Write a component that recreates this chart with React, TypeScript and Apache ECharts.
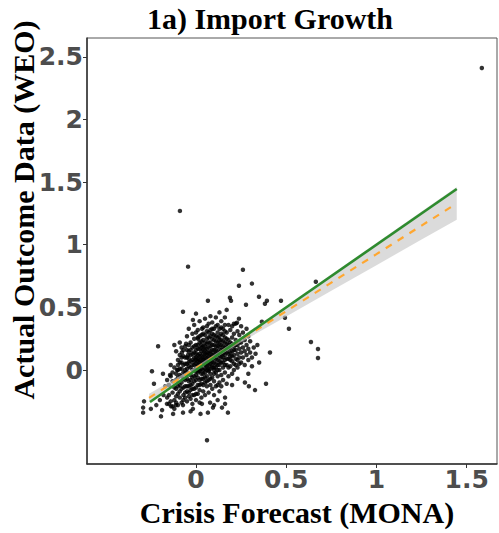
import React, { useEffect, useRef } from "react";
import * as echarts from "echarts";

const chartTitle = "1a) Import Growth";
const xTitle = "Crisis Forecast (MONA)";
const yTitle = "Actual Outcome Data (WEO)";
const xTicks = [0, 0.5, 1, 1.5];
const yTicks = [0, 0.5, 1, 1.5, 2, 2.5];

// sparse points around the cluster
const outerPoints: number[][] = [
  [1.584, 2.41], [-0.089, 1.27], [-0.044, 0.825], [0.26, 0.8], [0.238, 0.673], [0.31, 0.69],
  [0.349, 0.585], [0.393, 0.553], [0.382, 0.529], [0.471, 0.553], [0.493, 0.417], [0.515, 0.329],
  [0.637, 0.224], [0.676, 0.168], [0.676, 0.096], [0.664, 0.705], [0.188, 0.577], [0.194, 0.553],
  [0.277, 0.521], [0.066, 0.553], [-0.072, 0.465], [-0.017, 0.4], [-0.21, 0.19], [-0.244, -0.01],
  [-0.233, -0.11], [-0.288, -0.25], [-0.293, -0.3], [-0.293, -0.34], [-0.188, -0.32], [-0.194, -0.37],
  [-0.127, -0.35], [-0.072, -0.34], [-0.017, -0.31], [0.066, -0.34], [0.177, -0.34], [0.161, -0.27],
  [0.161, -0.22], [0.061, -0.56], [0.271, -0.1], [0.293, -0.13], [0.327, -0.16], [0.388, -0.11],
  [0.41, 0.14], [-0.183, -0.03], [-0.161, -0.27], [-0.138, -0.29], [-0.111, -0.28], [-0.072, -0.28],
  [0.033, -0.27], [0.078, -0.26], [0.094, -0.3], [0.238, 0.41], [0.227, 0.377], [0.21, 0.369],
  [0.365, 0.385], [0.25, 0.35], [0.28, 0.33], [0.144, -0.3], [0.12, -0.24], [-0.144, -0.04],
  [-0.078, 0.14], [-0.055, 0.21], [-0.044, 0.12], [0.011, 0.25], [0.033, 0.33], [-0.089, 0.06],
  [-0.105, 0.0], [-0.22, -0.28], [-0.2, -0.24], [-0.25, -0.31], [-0.18, -0.2], [-0.17, -0.13],
  [0.29, -0.03], [0.31, 0.03], [0.35, 0.06], [0.2, -0.12], [0.23, -0.07], [-0.12, 0.2],
  [0.0, 0.45], [0.13, 0.46], [0.17, 0.48], [-0.03, -0.33], [0.1, -0.28], [0.025, -0.35],
];

// dense central cluster
const corePoints: number[][] = [
  [-0.16, -0.22], [-0.15, -0.12], [-0.14, -0.05], [-0.13, -0.18], [-0.12, 0.02], [-0.15, -0.27],
  [-0.13, -0.09], [-0.12, -0.24], [-0.14, 0.04], [-0.11, -0.15], [-0.12, -0.31], [-0.16, -0.08],
  [-0.11, -0.03], [-0.1, 0.08], [-0.1, -0.19], [-0.09, -0.12], [-0.09, 0.12], [-0.08, -0.26],
  [-0.08, 0.01], [-0.08, 0.18], [-0.07, -0.07], [-0.07, -0.2], [-0.11, 0.15], [-0.1, -0.28],
  [-0.09, -0.04], [-0.08, 0.06], [-0.07, 0.11], [-0.07, -0.14], [-0.09, 0.22], [-0.1, 0.0],
  [-0.11, -0.21], [-0.08, -0.1],
  [-0.06, -0.18], [-0.06, 0.05], [-0.06, 0.19], [-0.06, -0.08], [-0.05, -0.25], [-0.05, 0.1],
  [-0.05, 0.27], [-0.05, -0.02], [-0.05, -0.13], [-0.04, 0.03], [-0.04, -0.21], [-0.04, 0.15],
  [-0.04, 0.33], [-0.04, -0.09], [-0.03, 0.07], [-0.03, -0.16], [-0.03, 0.22], [-0.03, -0.04],
  [-0.03, 0.12], [-0.02, -0.27], [-0.02, 0.0], [-0.02, 0.18], [-0.02, -0.11], [-0.02, 0.29],
  [-0.06, 0.0], [-0.05, 0.05], [-0.04, -0.03], [-0.03, -0.23], [-0.02, 0.08], [-0.06, -0.13],
  [-0.05, 0.16], [-0.04, 0.09], [-0.03, 0.02], [-0.02, -0.06], [-0.02, 0.13],
  [-0.01, -0.2], [-0.01, 0.04], [-0.01, 0.14], [-0.01, -0.09], [-0.01, 0.25], [-0.01, 0.36],
  [0.0, -0.14], [0.0, 0.01], [0.0, 0.1], [0.0, 0.2], [0.0, -0.04], [0.0, 0.3], [0.0, -0.24],
  [0.01, 0.07], [0.01, -0.12], [0.01, 0.17], [0.01, -0.02], [0.01, 0.26], [0.01, 0.12],
  [0.01, -0.19], [0.02, 0.03], [0.02, 0.22], [0.02, -0.08], [0.02, 0.13], [0.02, 0.39],
  [0.02, -0.16], [0.02, 0.08], [0.03, -0.03], [0.03, 0.18], [0.03, 0.05], [0.03, 0.28],
  [0.03, -0.11], [0.03, 0.11], [0.03, -0.22], [-0.01, 0.07], [0.0, 0.05], [0.01, 0.0],
  [0.02, -0.01], [0.03, 0.15], [0.0, 0.16], [0.01, 0.32], [0.02, 0.27], [-0.01, -0.05],
  [0.03, 0.23], [0.0, -0.08], [0.01, 0.2], [0.02, 0.17], [0.03, 0.01], [-0.01, 0.19], [0.02, -0.26],
  [0.04, 0.0], [0.04, 0.13], [0.04, -0.07], [0.04, 0.24], [0.04, 0.08], [0.04, -0.17],
  [0.04, 0.34], [0.04, 0.19], [0.05, 0.04], [0.05, -0.1], [0.05, 0.16], [0.05, 0.28],
  [0.05, -0.02], [0.05, 0.1], [0.05, 0.41], [0.05, -0.2], [0.06, 0.06], [0.06, 0.21],
  [0.06, -0.05], [0.06, 0.14], [0.06, 0.31], [0.06, -0.13], [0.06, 0.0], [0.06, 0.25],
  [0.07, 0.11], [0.07, -0.08], [0.07, 0.18], [0.07, 0.03], [0.07, 0.37], [0.07, -0.18],
  [0.07, 0.26], [0.07, 0.08], [0.08, 0.15], [0.08, -0.03], [0.08, 0.22], [0.08, 0.05],
  [0.08, 0.32], [0.08, -0.12], [0.08, 0.1], [0.08, 0.43], [0.04, 0.05], [0.05, 0.22],
  [0.06, 0.09], [0.07, 0.14], [0.08, 0.19], [0.04, 0.29], [0.05, 0.07], [0.06, 0.17],
  [0.07, -0.01], [0.08, 0.01], [0.05, 0.13], [0.06, 0.35], [0.07, 0.22], [0.08, 0.27], [0.04, -0.12],
  [0.09, 0.07], [0.09, 0.2], [0.09, -0.06], [0.09, 0.29], [0.09, 0.12], [0.09, -0.15],
  [0.09, 0.38], [0.1, 0.02], [0.1, 0.16], [0.1, 0.24], [0.1, -0.09], [0.1, 0.1], [0.1, 0.33],
  [0.1, -0.2], [0.11, 0.05], [0.11, 0.19], [0.11, 0.27], [0.11, -0.02], [0.11, 0.13],
  [0.11, 0.42], [0.11, -0.13], [0.12, 0.08], [0.12, 0.22], [0.12, -0.05], [0.12, 0.15],
  [0.12, 0.3], [0.12, 0.0], [0.12, 0.36], [0.13, 0.11], [0.13, -0.1], [0.13, 0.24],
  [0.13, 0.04], [0.13, 0.18], [0.13, 0.33], [0.13, -0.17], [0.09, 0.16], [0.1, 0.06],
  [0.11, 0.09], [0.12, 0.12], [0.13, 0.07], [0.09, 0.02], [0.1, 0.28], [0.11, 0.23],
  [0.12, 0.19], [0.13, 0.27], [0.09, 0.25], [0.1, -0.03], [0.11, 0.35], [0.12, -0.12], [0.13, 0.14],
  [0.14, 0.06], [0.14, 0.2], [0.14, -0.04], [0.14, 0.29], [0.14, 0.13], [0.14, 0.39],
  [0.15, 0.1], [0.15, 0.23], [0.15, -0.08], [0.15, 0.16], [0.15, 0.02], [0.15, 0.33],
  [0.16, 0.08], [0.16, 0.26], [0.16, -0.02], [0.16, 0.18], [0.16, 0.12], [0.16, 0.42],
  [0.17, 0.04], [0.17, 0.21], [0.17, 0.14], [0.17, -0.11], [0.17, 0.3], [0.18, 0.09],
  [0.18, 0.24], [0.18, 0.17], [0.18, -0.05], [0.18, 0.36], [0.14, 0.24], [0.15, 0.19],
  [0.16, 0.04], [0.17, 0.09], [0.18, 0.13], [0.14, -0.13], [0.15, 0.28], [0.16, 0.22],
  [0.17, 0.25], [0.18, 0.02], [0.14, 0.1], [0.16, 0.31],
  [0.19, 0.11], [0.19, 0.22], [0.19, 0.03], [0.19, 0.32], [0.2, 0.15], [0.2, 0.07],
  [0.2, 0.26], [0.2, -0.03], [0.21, 0.12], [0.21, 0.19], [0.21, 0.29], [0.21, 0.05],
  [0.22, 0.16], [0.22, 0.09], [0.22, 0.24], [0.22, 0.37], [0.23, 0.13], [0.23, 0.2],
  [0.23, 0.02], [0.24, 0.17], [0.24, 0.1], [0.24, 0.28], [0.19, 0.18], [0.2, 0.35],
  [0.21, 0.0], [0.22, 0.04], [0.23, 0.31], [0.24, 0.05], [0.19, 0.08], [0.2, 0.21],
  [0.25, 0.14], [0.25, 0.22], [0.25, 0.06], [0.26, 0.18], [0.26, 0.3], [0.26, 0.1],
  [0.27, 0.15], [0.27, 0.24], [0.28, 0.12], [0.28, 0.2], [0.29, 0.08], [0.29, 0.17],
  [0.3, 0.14], [0.3, 0.23], [0.31, 0.1], [0.32, 0.18], [0.33, 0.13], [0.27, 0.04],
  [0.29, 0.27], [0.34, 0.2],
];

// further points filling the darkest part of the cluster
const densePoints: number[][] = [
  [-0.15, -0.2], [-0.14, -0.25], [-0.13, -0.29], [-0.13, -0.02], [-0.12, -0.14], [-0.11, -0.08],
  [-0.11, -0.26], [-0.1, -0.13], [-0.1, -0.06], [-0.1, 0.04], [-0.09, -0.22], [-0.09, -0.17],
  [-0.09, 0.01], [-0.08, -0.15], [-0.08, -0.05], [-0.08, 0.1], [-0.07, -0.24], [-0.07, -0.02],
  [-0.07, 0.04], [-0.07, 0.16], [-0.06, -0.22], [-0.06, -0.03], [-0.06, 0.1], [-0.05, -0.17],
  [-0.05, -0.07], [-0.05, 0.01], [-0.04, -0.13], [-0.04, -0.18], [-0.04, 0.06], [-0.04, 0.2],
  [-0.03, -0.08], [-0.03, -0.12], [-0.03, 0.16], [-0.02, -0.2], [-0.02, -0.15], [-0.02, 0.04],
  [-0.01, -0.15], [-0.01, 0.0], [-0.01, 0.1], [0.0, -0.19], [0.0, -0.01], [0.0, 0.08],
  [0.0, 0.13], [0.01, -0.06], [0.01, 0.04], [0.01, 0.09], [0.02, -0.12], [0.02, 0.0],
  [0.02, 0.06], [0.02, 0.11], [0.03, -0.07], [0.03, 0.08], [0.03, 0.2], [0.04, -0.03],
  [0.04, 0.1], [0.04, 0.16], [0.05, -0.06], [0.05, 0.01], [0.05, 0.19], [0.06, -0.09],
  [0.06, 0.03], [0.06, 0.12], [0.07, 0.0], [0.07, 0.06], [0.07, 0.3], [0.08, -0.07],
  [0.08, 0.08], [0.08, 0.13], [0.09, 0.04], [0.09, 0.1], [0.09, 0.33], [0.1, 0.13],
  [0.1, 0.2], [0.1, 0.0], [0.11, 0.16], [0.11, 0.02], [0.12, 0.04], [0.12, 0.26],
  [0.13, 0.21], [0.13, 0.0], [0.14, 0.16], [0.14, 0.34], [0.15, 0.06], [0.15, 0.13],
  [0.16, 0.15], [0.16, 0.36], [0.17, 0.18], [0.18, 0.2], [0.19, 0.14], [0.2, 0.11],
  [0.21, 0.16], [0.22, 0.2], [0.23, 0.08], [0.24, 0.22],
];

// fitted lines
const fitX = [-0.26, 0, 0.25, 0.5, 0.75, 1.0, 1.25, 1.445];
const fitY = [-0.222, 0.015, 0.243, 0.47, 0.698, 0.925, 1.153, 1.33];
const bandLower = [-0.255, 0.001, 0.222, 0.428, 0.633, 0.837, 1.041, 1.2];
const bandUpper = [-0.189, 0.029, 0.264, 0.512, 0.763, 1.013, 1.265, 1.46];
const refX = [-0.255, 1.445];
const refY = [-0.255, 1.445];

export default function App() {
  const ref = useRef<HTMLDivElement>(null);
  useEffect(() => {
    if (!ref.current) return;
    const chart = echarts.init(ref.current, null, { renderer: "svg" });
    const tickFont = {
      fontSize: 25,
      fontWeight: "bold" as const,
      color: "#4d4d4d",
      fontFamily: "DejaVu Sans",
    };
    const dot = { symbolSize: 4.5, itemStyle: { color: "#000" }, z: 2 };
    chart.setOption({
      animation: false,
      backgroundColor: "#ffffff",
      grid: {
        left: 87,
        right: 2,
        top: 38,
        bottom: 69,
        show: true,
        borderColor: "#555",
        borderWidth: 1,
      },
      xAxis: {
        type: "value",
        min: -0.604,
        max: 1.668,
        splitLine: { show: false },
        axisLine: { show: true, onZero: false, lineStyle: { color: "#333", width: 1.5 } },
        axisTick: { show: true, length: 4, customValues: xTicks, lineStyle: { color: "#333" } },
        axisLabel: { ...tickFont, margin: 3, customValues: xTicks },
      },
      yAxis: {
        type: "value",
        min: -0.75,
        max: 2.65,
        splitLine: { show: false },
        axisLine: { show: true, onZero: false, lineStyle: { color: "#333", width: 1.5 } },
        axisTick: { show: true, length: 4, customValues: yTicks, lineStyle: { color: "#333" } },
        axisLabel: { ...tickFont, margin: 4, customValues: yTicks },
      },
      graphic: [
        {
          type: "text",
          x: 270,
          y: 18,
          style: {
            text: chartTitle,
            font: "bold 30px 'Liberation Serif'",
            fill: "#000",
            textAlign: "center",
            textVerticalAlign: "middle",
          },
        },
        {
          type: "text",
          x: 297,
          y: 512,
          style: {
            text: xTitle,
            font: "bold 30px 'Liberation Serif'",
            fill: "#000",
            textAlign: "center",
            textVerticalAlign: "middle",
          },
        },
        {
          type: "text",
          x: 23,
          y: 210,
          rotation: Math.PI / 2,
          style: {
            text: yTitle,
            font: "bold 30px 'Liberation Serif'",
            fill: "#000",
            textAlign: "center",
            textVerticalAlign: "middle",
          },
        },
      ],
      series: [
        { type: "scatter", data: outerPoints, ...dot },
        { type: "scatter", data: corePoints, ...dot },
        { type: "scatter", data: densePoints, ...dot },
        {
          type: "custom",
          silent: true,
          z: 3,
          data: [[fitX[0], bandLower[0]]],
          renderItem: (params: any, api: any) => {
            if (params.dataIndex !== 0) return null;
            const pts: number[][] = [];
            for (let i = 0; i < fitX.length; i++) pts.push(api.coord([fitX[i], bandUpper[i]]));
            for (let i = fitX.length - 1; i >= 0; i--) pts.push(api.coord([fitX[i], bandLower[i]]));
            return {
              type: "polygon",
              shape: { points: pts },
              style: { fill: "rgba(200,200,200,0.65)" },
            };
          },
        },
        {
          type: "line",
          data: fitX.map((x, i) => [x, fitY[i]]),
          showSymbol: false,
          lineStyle: { color: "#FFA730", width: 2.2, type: [7, 7] },
          z: 4,
        },
        {
          type: "line",
          data: refX.map((x, i) => [x, refY[i]]),
          showSymbol: false,
          lineStyle: { color: "#2E8B2E", width: 2.6 },
          z: 5,
        },
      ],
    });
    return () => chart.dispose();
  }, []);
  return (
    <div
      ref={ref}
      style={{ position: "absolute", left: 0, top: 0, width: 499, height: 533 }}
    />
  );
}
